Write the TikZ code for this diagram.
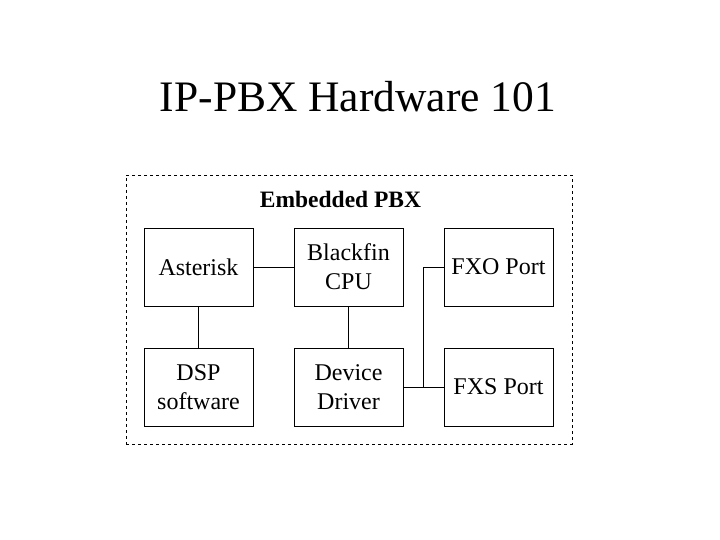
\documentclass[tikz,border=0pt]{standalone}
\usepackage{fontspec}
\setmainfont{Liberation Serif}
\begin{document}
\begin{tikzpicture}[x=1pt,y=-1pt,
  blk/.style={draw,line width=0.9pt,minimum width=109pt,minimum height=78pt,inner sep=0pt,align=center,
    font=\fontsize{24}{29}\selectfont},
  wire/.style={line width=0.9pt}]
\useasboundingbox[fill=white] (0,0) rectangle (720,540);
\node (title) at (358,97) {\fontsize{43.5}{50}\selectfont IP-PBX Hardware 101};
\node[draw,dashed,line width=0.9pt,minimum width=446pt,minimum height=269pt,inner sep=0pt] (frame) at (349,309.5) {};
\node (lab) at (340.5,199) {\fontsize{23.5}{28}\selectfont\bfseries Embedded PBX};
\node[blk] (ast) at (198.5,267) {Asterisk};
\node[blk] (cpu) at (348.5,267) {Blackfin\\CPU};
\node[blk] (fxo) at (498.5,267) {FXO Port};
\node[blk] (dsp) at (198.5,387) {DSP\\software};
\node[blk] (drv) at (348.5,387) {Device\\Driver};
\node[blk] (fxs) at (498.5,387) {FXS Port};
\coordinate (j) at (423,387);
\draw[wire] (ast) -- (cpu);
\draw[wire] (ast) -- (dsp);
\draw[wire] (cpu) -- (drv);
\draw[wire] (drv) -- (fxs);
\draw[wire] (j) |- (fxo);
\end{tikzpicture}
\end{document}
